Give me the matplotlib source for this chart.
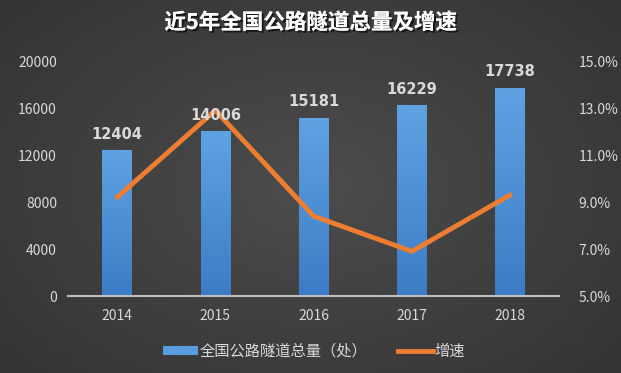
import numpy as np
import matplotlib
matplotlib.use("Agg")
import matplotlib.pyplot as plt
import matplotlib.patheffects as pe
from matplotlib.colors import LinearSegmentedColormap
from matplotlib.lines import Line2D
from matplotlib.patches import Patch

plt.rcParams["font.family"] = ["Noto Sans CJK SC", "DejaVu Sans"]

years = ["2014", "2015", "2016", "2017", "2018"]
tunnels = [12404, 14006, 15181, 16229, 17738]
growth = [9.2, 12.9, 8.4, 6.9, 9.3]  # %

left_ticks = [0, 4000, 8000, 12000, 16000, 20000]
right_ticks = [5.0, 7.0, 9.0, 11.0, 13.0, 15.0]

text_col = "#d9d9d9"
bar_col = "#4a8fd8"
line_col = "#ed7d31"

fig = plt.figure(figsize=(6.21, 3.73), dpi=100)

# radial dark grey background
bg = fig.add_axes([0, 0, 1, 1], zorder=-10)
yy, xx = np.mgrid[-1:1:200j, -1:1:300j]
r = np.clip(np.sqrt(xx ** 2 + (yy * 0.9) ** 2) / 1.35, 0, 1)
grey = 0.30 - 0.10 * r
bg.imshow(np.dstack([grey, grey, grey]), aspect="auto", extent=[0, 1, 0, 1])
bg.axis("off")

ax = fig.add_axes([0.1095, 0.2064, 0.791, 0.630])
ax.patch.set_alpha(0)
x = np.arange(len(years))
bars = ax.bar(x, tunnels, width=0.3, color=bar_col, zorder=2)
bar_cmap = LinearSegmentedColormap.from_list("b", ["#3c7cc6", "#5fa2e2"])
grad = np.linspace(0, 1, 100).reshape(-1, 1)
for b in bars:
    im = ax.imshow(grad, cmap=bar_cmap, origin="lower", aspect="auto",
                   extent=[b.get_x(), b.get_x() + b.get_width(), 0, b.get_height()],
                   zorder=2.1)
    im.set_clip_path(b)
ax.set_xlim(-0.5, len(years) - 0.5)
ax.set_ylim(0, 20000)
ax.set_yticks(left_ticks)
ax.set_xticks(x, years)

for s in ["top", "right", "left"]:
    ax.spines[s].set_visible(False)
ax.spines["bottom"].set_color("#bfbfbf")
ax.spines["bottom"].set_linewidth(1.5)
ax.tick_params(axis="both", length=0, colors=text_col, labelsize=10)
ax.tick_params(axis="x", pad=9)
ax.tick_params(axis="y", pad=8)

ax2 = ax.twinx()
ax2.plot(x, growth, color=line_col, lw=3.5, solid_capstyle="round", zorder=3)
ax2.set_ylim(5, 15)
ax2.set_yticks(right_ticks, [f"{t:.1f}%" for t in right_ticks])
for s in ax2.spines.values():
    s.set_visible(False)
ax2.tick_params(axis="y", length=0, colors=text_col, labelsize=10, pad=14)

# value labels drawn above the line
for v, xi in zip(tunnels, x):
    ax2.text(xi, v + 700, str(v), transform=ax.transData, ha="center",
             va="bottom", color=text_col, fontsize=10.5, fontweight="bold",
             family="DejaVu Sans", zorder=5)

fig.text(0.5, 0.94, "近5年全国公路隧道总量及增速", ha="center", va="center",
         color="white", fontsize=15.5, fontweight="bold",
         path_effects=[pe.withSimplePatchShadow(offset=(1.5, -1.5),
                                                shadow_rgbFace="black",
                                                alpha=0.6), pe.Normal()])

handles = [Patch(facecolor="#5a9ce0"), Line2D([], [], color=line_col, lw=3.5)]
leg = fig.legend(handles, ["全国公路隧道总量（处）", "增速"], loc="center",
                 bbox_to_anchor=(0.505, 0.058), ncol=2, frameon=False,
                 fontsize=11, handlelength=2.3, handleheight=0.5,
                 columnspacing=2.0, handletextpad=0.1)
for t in leg.get_texts():
    t.set_color(text_col)

fig.savefig("out.png", dpi=100)
